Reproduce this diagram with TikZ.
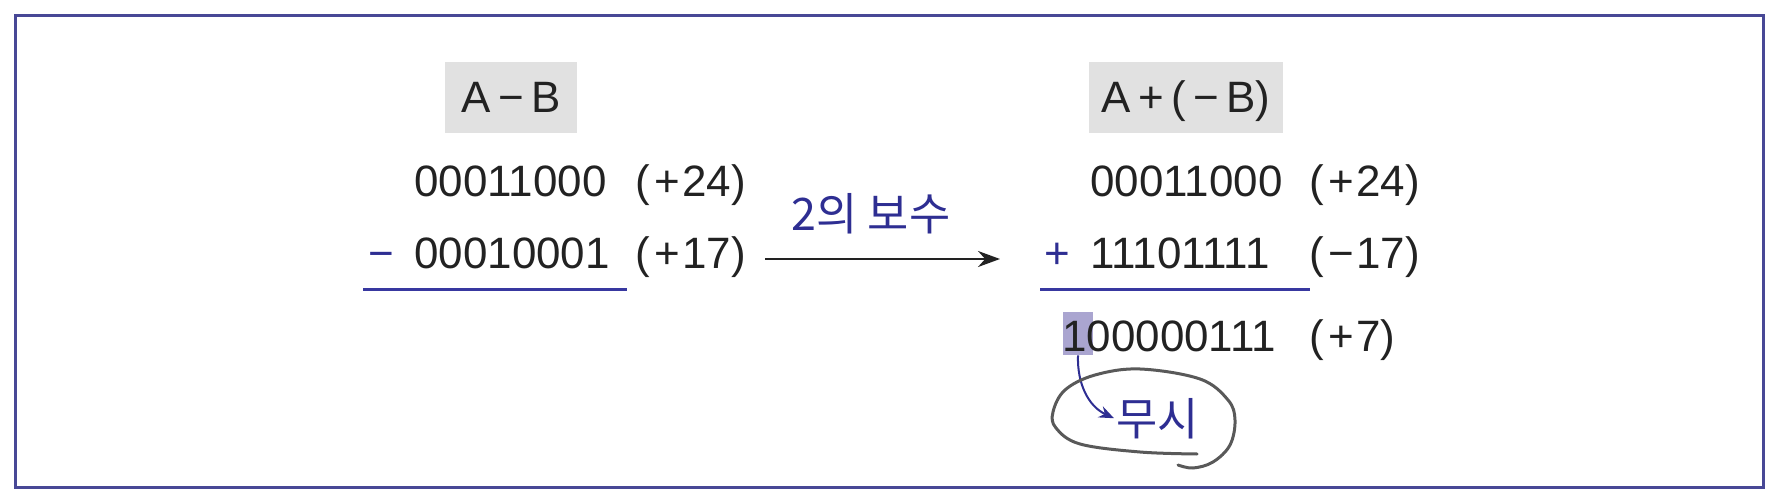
\documentclass[tikz,border=0pt]{standalone}
\usepackage{fontspec}
\setmainfont{Liberation Sans}
\newfontfamily\kor{Noto Sans CJK KR}
\usetikzlibrary{arrows.meta}
\definecolor{framecol}{RGB}{72,72,150}
\definecolor{inkblue}{RGB}{46,46,146}
\definecolor{rulecol}{RGB}{56,56,160}
\definecolor{headgray}{RGB}{225,225,225}
\definecolor{carrycol}{RGB}{170,165,208}
\definecolor{pencol}{RGB}{89,89,89}
\definecolor{digitcol}{RGB}{34,34,34}
\tikzset{
	num/.style={anchor=base west, inner sep=0pt, text=digitcol},
	opsign/.style={anchor=base, inner sep=0pt, text=inkblue},
	headbox/.style={fill=headgray, minimum height=14.2mm, minimum width=#1, text height=6mm, text depth=0pt, inner sep=0pt, text=digitcol},
	sumrule/.style={draw=rulecol, line width=0.6mm},
	korlabel/.style={inner sep=0pt, text=inkblue, font=\kor\fontsize{25.5}{30}\selectfont},
}

\begin{document}
\begin{tikzpicture}[x=0.2mm, y=-0.2mm, font=\fontsize{25}{30}\selectfont]
		%%%%% START %%%%%
		\useasboundingbox (0, 0) rectangle (1780, 496);
		\draw[line width=0.6mm, color=framecol] (15, 16) rectangle (1763, 487);
		
		% A - B
		\node[headbox=26.4mm] (lhead) at (511, 97.5) {A\,−\,B};
		\node[num] (la1) at (414, 197) {00011000};
		\node[num] (lv1) at (635, 197) {(\kern0.1em+\kern0.05em24)};
		\node[opsign] (lop) at (381, 269) {−};
		\node[num] (la2) at (414, 269) {00010001};
		\node[num] (lv2) at (635, 269) {(\kern0.1em+\kern0.05em17)};
		\draw[sumrule] (363, 290) -- (627, 290);
		
		% two's complement
		\coordinate (tcfrom) at (765, 259);
		\coordinate (tcto) at (1000, 259);
		\draw[line width=0.5mm, color=digitcol, -{Stealth[length=4.4mm, width=3.2mm]}] (tcfrom) -- (tcto);
		\node[korlabel, anchor=base] (tclabel) at (871, 231) {2의 보수};
		
		% A + (-B)
		\node[headbox=38.8mm] (rhead) at (1186, 97.5) {A\,+\,(\,−\,B)};
		\node[num] (ra1) at (1090, 197) {00011000};
		\node[num] (rv1) at (1309, 197) {(\kern0.1em+\kern0.05em24)};
		\node[opsign] (rop) at (1057, 269) {+};
		\node[num] (ra2) at (1090, 269) {11101111};
		\node[num] (rv2) at (1309, 269) {(\kern0.1em−\kern0.05em17)};
		\draw[sumrule] (1040, 290) -- (1310, 290);
		
		\node[fill=carrycol, minimum width=6mm, minimum height=8.6mm, inner sep=0pt] (carry) at (1078, 333.5) {};
		\node[num] (rsum) at (1062, 352) {100000111};
		\node[num] (rsv) at (1309, 352) {(\kern0.1em+\kern0.05em7)};
		
		\node[korlabel, anchor=base west, inner sep=0.4mm] (ignore) at (1114, 435) {무시};
		\draw[line width=0.4mm, color=inkblue, -{Stealth[length=3mm, width=2.4mm]}] (carry.south) to[out=-92, in=155] (ignore.west);
		
		\draw[line width=0.6mm, color=pencol, line cap=round] plot[smooth, tension=0.6] coordinates {(1197, 454) (1140, 452) (1080, 444) (1056, 428) (1053, 412) (1065, 390) (1095, 375) (1140, 369) (1200, 379) (1228, 400) (1235, 420) (1230, 445) (1213, 462) (1193, 468) (1178, 465)};
		%%%%% END %%%%%
	\end{tikzpicture}
\end{document}
